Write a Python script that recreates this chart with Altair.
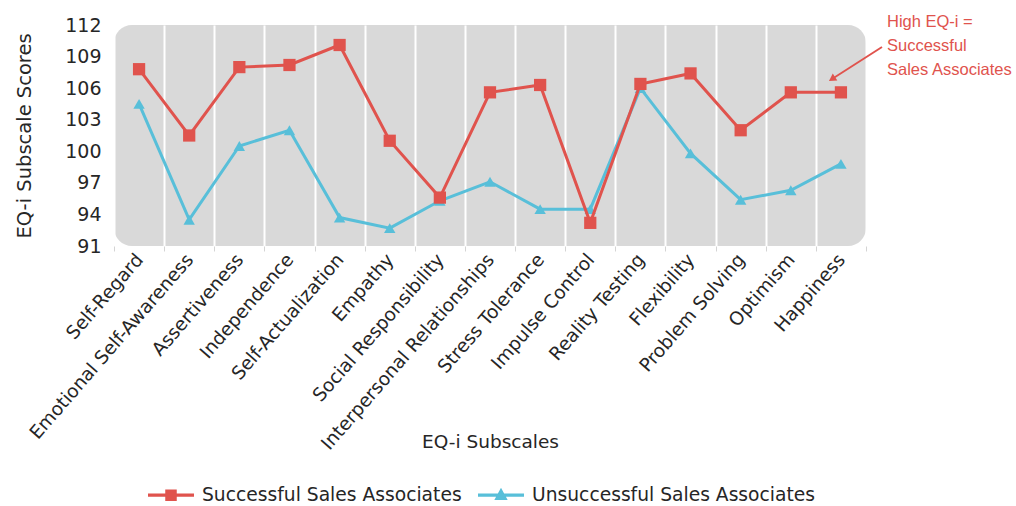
import altair as alt
import pandas as pd

categories = ["Self-Regard", "Emotional Self-Awareness", "Assertiveness", "Independence",
              "Self-Actualization", "Empathy", "Social Responsibility",
              "Interpersonal Relationships", "Stress Tolerance", "Impulse Control",
              "Reality Testing", "Flexibility", "Problem Solving", "Optimism", "Happiness"]
successful = [107.8, 101.5, 108.0, 108.2, 110.1, 101.0, 95.6, 105.6, 106.3, 93.2,
              106.4, 107.4, 102.0, 105.6, 105.6]
unsuccessful = [104.5, 93.5, 100.5, 102.0, 93.7, 92.7, 95.3, 97.1, 94.5, 94.5,
                106.0, 99.8, 95.4, 96.3, 98.8]
series_names = ["Successful Sales Associates", "Unsuccessful Sales Associates"]
y_ticks = [91, 94, 97, 100, 103, 106, 109, 112]
note_text = ["High EQ-i =\nSuccessful\nSales Associates"]

RED = "#e0534d"
BLUE = "#58bfd9"
FONT = "DejaVu Sans"
NOTE_FONT = "Liberation Sans"
TXT = "#262626"

rows = []
for c, s, u in zip(categories, successful, unsuccessful):
    rows.append({"subscale": c, "score": s, "series": series_names[0]})
    rows.append({"subscale": c, "score": u, "series": series_names[1]})
df = pd.DataFrame(rows)
note_df = pd.DataFrame({"note": note_text})

x_enc = alt.X("subscale:N", sort=categories,
              scale=alt.Scale(type="band", paddingInner=0, paddingOuter=0),
              axis=alt.Axis(title="EQ-i Subscales", tickBand="extent", grid=True,
                            gridColor="white", gridWidth=2, gridOpacity=1,
                            domain=False, ticks=True, tickColor="#d4d4d4", tickSize=5,
                            labelAngle=-49, labelAlign="right", labelBaseline="middle",
                            labelFontSize=18.5, labelPadding=5, labelLimit=400,
                            labelColor=TXT, labelFont=FONT,
                            titleFont=FONT, titleFontSize=18.5, titleFontWeight="normal",
                            titleColor=TXT, titleY=186, titleBaseline="top"))
y_enc = alt.Y("score:Q",
              scale=alt.Scale(domain=[91, 112], nice=False, zero=False),
              axis=alt.Axis(title="EQ-i Subscale Scores", values=y_ticks, grid=False,
                            domain=False, ticks=False, tickSize=0, labelPadding=13,
                            labelFontSize=19, labelColor=TXT, labelFont=FONT,
                            titleFont=FONT, titleFontSize=19.5, titleFontWeight="normal",
                            titleColor=TXT, titlePadding=30))

base = alt.Chart(df).encode(x=x_enc, y=y_enc)

layers = []
for name, color, shape, size in [(series_names[1], BLUE, "triangle-up", 130),
                                 (series_names[0], RED, "square", 150)]:
    sub = base.transform_filter(alt.datum.series == name)
    layers.append(sub.mark_line(color=color, strokeWidth=3))
    layers.append(sub.mark_point(color=color, shape=shape, size=size, filled=True, opacity=1))

path_sq = "M-1,-0.07H1V0.07H-1Z M-0.25,-0.25H0.25V0.25H-0.25Z"
path_tri = "M-1,-0.07H1V0.07H-1Z M0,-0.32L0.29,0.21H-0.29Z"

def legend_opts():
    return alt.Legend(title=None, orient="none", direction="horizontal",
                      legendX=34, legendY=447, symbolSize=2116,
                      labelFontSize=18.7, labelFont=FONT, labelLimit=500,
                      labelColor=TXT, labelOffset=8,
                      columnPadding=16, symbolStrokeWidth=0)

legend_layer = base.transform_filter("false").mark_point(filled=True, opacity=1).encode(
    color=alt.Color("series:N", scale=alt.Scale(domain=series_names, range=[RED, BLUE]),
                    legend=legend_opts()),
    shape=alt.Shape("series:N", scale=alt.Scale(domain=series_names, range=[path_sq, path_tri]),
                    legend=legend_opts()),
)

note = alt.Chart(note_df).mark_text(
    align="left", baseline="top", fontSize=16.5, font=NOTE_FONT, color=RED,
    lineBreak="\n", lineHeight=24
).encode(x=alt.value(773), y=alt.value(-11), text="note:N")

arrow_line = alt.Chart(note_df).mark_rule(color=RED, strokeWidth=2).encode(
    x=alt.value(768), x2=alt.value(718), y=alt.value(22), y2=alt.value(54))
arrow_head = alt.Chart(note_df).mark_point(
    shape="triangle-up", angle=237, filled=True, color=RED, size=70, opacity=1
).encode(x=alt.value(718), y=alt.value(54))

chart = alt.layer(*layers, legend_layer, note, arrow_line, arrow_head).properties(
    width=752, height=221,
    autosize=alt.AutoSizeParams(type="none"),
    padding={"left": 114, "top": 25, "right": 150, "bottom": 260},
).configure_view(fill="#d9d9d9", stroke=None, cornerRadius=18)

chart.save("out.html", embed_options={"renderer": "svg", "actions": False})
